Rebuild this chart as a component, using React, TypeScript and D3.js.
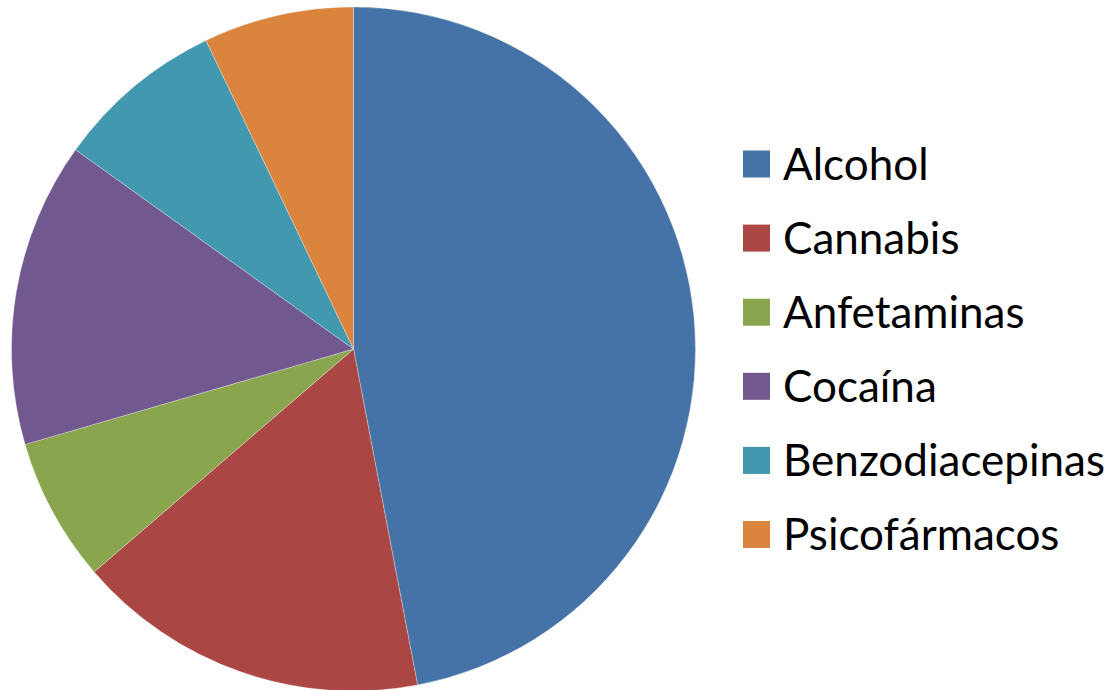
import React from "react";
import * as d3 from "d3";

const categories = ["Alcohol", "Cannabis", "Anfetaminas", "Cocaína", "Benzodiacepinas", "Psicofármacos"];
const values = [47.0, 16.7, 6.8, 14.4, 8.0, 7.1];
const colors = ["#4572A7", "#AA4643", "#89A54E", "#71588F", "#4198AF", "#DB843D"];

const W = 1115;
const H = 690;
const cx = 353.5;
const cy = 349;
const R = 342;

export default function App() {
  const pie = d3.pie<number>().sort(null).value((d) => d);
  const arcs = pie(values);
  const arc = d3.arc<d3.PieArcDatum<number>>().innerRadius(0).outerRadius(R);
  const legendY = d3.scalePoint<string>().domain(categories).range([164, 534.5]);

  return (
    <svg width={W} height={H} style={{ position: "absolute", left: 0, top: 0, background: "#fff" }}>
      <g transform={`translate(${cx},${cy})`}>
        {arcs.map((a, i) => (
          <path key={i} d={arc(a) || ""} fill={colors[i]} stroke="#ffffff" strokeWidth={0.6} strokeOpacity={0.5} />
        ))}
      </g>
      <g>
        {categories.map((c, i) => {
          const y = legendY(c) as number;
          return (
            <g key={c}>
              <rect x={743} y={y - 13.5} width={27} height={27} fill={colors[i]} />
              <text x={783} y={y} dy="0.36em" fontFamily="Lato, 'Open Sans', sans-serif" fontSize={44} fill="#000">
                {c}
              </text>
            </g>
          );
        })}
      </g>
    </svg>
  );
}
